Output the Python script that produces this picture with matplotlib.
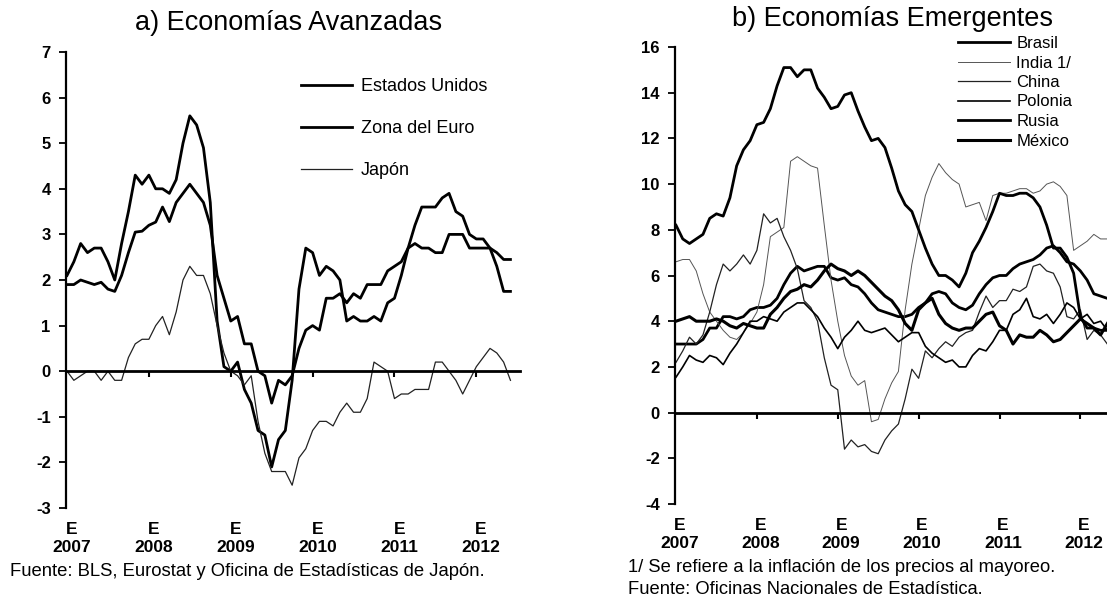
import matplotlib
matplotlib.use("Agg")
import matplotlib.pyplot as plt
import matplotlib.transforms as mtransforms
import numpy as np

plt.rcParams["font.family"] = ["Liberation Sans", "DejaVu Sans"]
plt.rcParams["axes.unicode_minus"] = False

# monthly, Jan 2007 onwards (annual % change)
years = ["2007", "2008", "2009", "2010", "2011", "2012"]

eeuu = [2.1, 2.4, 2.8, 2.6, 2.7, 2.7, 2.4, 2.0, 2.8, 3.5, 4.3, 4.1,
        4.3, 4.0, 4.0, 3.9, 4.2, 5.0, 5.6, 5.4, 4.9, 3.7, 1.1, 0.1,
        0.0, 0.2, -0.4, -0.7, -1.3, -1.4, -2.1, -1.5, -1.3, -0.2, 1.8, 2.7,
        2.6, 2.1, 2.3, 2.2, 2.0, 1.1, 1.2, 1.1, 1.1, 1.2, 1.1, 1.5,
        1.6, 2.1, 2.7, 3.2, 3.6, 3.6, 3.6, 3.8, 3.9, 3.5, 3.4, 3.0,
        2.9, 2.9, 2.7, 2.3, 1.75, 1.75]

euro = [1.9, 1.9, 2.0, 1.95, 1.9, 1.95, 1.8, 1.75, 2.1, 2.6, 3.05, 3.07,
        3.2, 3.27, 3.6, 3.28, 3.7, 3.9, 4.1, 3.9, 3.7, 3.2, 2.1, 1.6,
        1.1, 1.2, 0.6, 0.6, 0.0, -0.1, -0.7, -0.2, -0.3, -0.1, 0.5, 0.9,
        1.0, 0.9, 1.6, 1.6, 1.7, 1.5, 1.7, 1.6, 1.9, 1.9, 1.9, 2.2,
        2.3, 2.4, 2.7, 2.8, 2.7, 2.7, 2.6, 2.6, 3.0, 3.0, 3.0, 2.7,
        2.7, 2.7, 2.7, 2.6, 2.45, 2.45]

japon = [0.0, -0.2, -0.1, 0.0, 0.0, -0.2, 0.0, -0.2, -0.2, 0.3, 0.6, 0.7,
         0.7, 1.0, 1.2, 0.8, 1.3, 2.0, 2.3, 2.1, 2.1, 1.7, 1.0, 0.4,
         0.0, -0.1, -0.3, -0.1, -1.1, -1.8, -2.2, -2.2, -2.2, -2.5, -1.9, -1.7,
         -1.3, -1.1, -1.1, -1.2, -0.9, -0.7, -0.9, -0.9, -0.6, 0.2, 0.1, 0.0,
         -0.6, -0.5, -0.5, -0.4, -0.4, -0.4, 0.2, 0.2, 0.0, -0.2, -0.5, -0.2,
         0.1, 0.3, 0.5, 0.4, 0.2, -0.2]

brasil = [3.0, 3.0, 3.0, 3.0, 3.2, 3.7, 3.7, 4.2, 4.2, 4.1, 4.2, 4.5,
          4.6, 4.6, 4.7, 5.0, 5.6, 6.1, 6.4, 6.2, 6.3, 6.4, 6.4, 5.9,
          5.8, 5.9, 5.6, 5.5, 5.2, 4.8, 4.5, 4.4, 4.3, 4.2, 4.2, 4.3,
          4.6, 4.8, 5.2, 5.3, 5.2, 4.8, 4.6, 4.5, 4.7, 5.2, 5.6, 5.9,
          6.0, 6.0, 6.3, 6.5, 6.6, 6.7, 6.9, 7.2, 7.3, 7.0, 6.6, 6.5,
          6.2, 5.8, 5.2, 5.1, 5.0]

india = [6.6, 6.7, 6.7, 6.2, 5.2, 4.4, 4.0, 3.6, 3.3, 3.2, 3.5, 3.9,
         4.4, 5.6, 7.7, 7.9, 8.1, 11.0, 11.2, 11.0, 10.8, 10.7, 8.2, 5.8,
         4.0, 2.5, 1.6, 1.2, 1.4, -0.4, -0.3, 0.6, 1.3, 1.8, 4.5, 6.5,
         8.0, 9.5, 10.3, 10.9, 10.5, 10.2, 10.0, 9.0, 9.1, 9.2, 8.4, 9.5,
         9.6, 9.6, 9.7, 9.8, 9.8, 9.6, 9.7, 10.0, 10.1, 9.9, 9.5, 7.1,
         7.3, 7.5, 7.8, 7.6, 7.6]

china = [2.2, 2.7, 3.3, 3.0, 3.4, 4.4, 5.6, 6.5, 6.2, 6.5, 6.9, 6.5,
         7.1, 8.7, 8.3, 8.5, 7.7, 7.1, 6.3, 4.9, 4.6, 4.0, 2.4, 1.2,
         1.0, -1.6, -1.2, -1.5, -1.4, -1.7, -1.8, -1.2, -0.8, -0.5, 0.6, 1.9,
         1.5, 2.7, 2.4, 2.8, 3.1, 2.9, 3.3, 3.5, 3.6, 4.4, 5.1, 4.6,
         4.9, 4.9, 5.4, 5.3, 5.5, 6.4, 6.5, 6.2, 6.1, 5.5, 4.2, 4.1,
         4.5, 3.2, 3.6, 3.4, 3.0]

polonia = [1.55, 2.0, 2.5, 2.3, 2.2, 2.5, 2.4, 2.1, 2.6, 3.0, 3.5, 4.0,
           4.0, 4.2, 4.1, 4.0, 4.4, 4.6, 4.8, 4.8, 4.5, 4.2, 3.7, 3.3,
           2.8, 3.3, 3.6, 4.0, 3.6, 3.5, 3.6, 3.7, 3.4, 3.1, 3.3, 3.5,
           3.5, 2.9, 2.6, 2.4, 2.2, 2.3, 2.0, 2.0, 2.5, 2.8, 2.7, 3.1,
           3.6, 3.6, 4.3, 4.5, 5.0, 4.2, 4.1, 4.3, 3.9, 4.3, 4.8, 4.6,
           4.1, 4.3, 3.9, 4.0, 3.6]

rusia = [8.2, 7.6, 7.4, 7.6, 7.8, 8.5, 8.7, 8.6, 9.4, 10.8, 11.5, 11.9,
         12.6, 12.7, 13.3, 14.3, 15.1, 15.1, 14.7, 15.0, 15.0, 14.2, 13.8, 13.3,
         13.4, 13.9, 14.0, 13.2, 12.5, 11.9, 12.0, 11.6, 10.7, 9.7, 9.1, 8.8,
         8.0, 7.2, 6.5, 6.0, 6.0, 5.8, 5.5, 6.1, 7.0, 7.5, 8.1, 8.8,
         9.6, 9.5, 9.5, 9.6, 9.6, 9.4, 9.0, 8.2, 7.2, 7.2, 6.8, 6.1,
         4.2, 3.7, 3.7, 3.6, 3.6]

mexico = [4.0, 4.1, 4.2, 4.0, 4.0, 4.0, 4.1, 4.0, 3.8, 3.7, 3.9, 3.8,
          3.7, 3.7, 4.3, 4.6, 5.0, 5.3, 5.4, 5.6, 5.5, 5.8, 6.2, 6.5,
          6.3, 6.2, 6.0, 6.2, 6.0, 5.7, 5.4, 5.1, 4.9, 4.5, 3.9, 3.6,
          4.5, 4.8, 5.0, 4.3, 3.9, 3.7, 3.6, 3.7, 3.7, 4.0, 4.3, 4.4,
          3.8, 3.6, 3.0, 3.4, 3.3, 3.3, 3.6, 3.4, 3.1, 3.2, 3.5, 3.8,
          4.1, 3.9, 3.7, 3.4, 3.9]

W, H = 1107, 598
fig = plt.figure(figsize=(W / 100, H / 100), dpi=100)


def style_axis(ax, yticks, xmax, label_shift):
    for s in ["top", "right"]:
        ax.spines[s].set_visible(False)
    ax.spines["left"].set_linewidth(1.6)
    ax.spines["bottom"].set_position(("data", 0))
    ax.spines["bottom"].set_linewidth(2.0)
    ax.set_xlim(-0.15, xmax)
    ax.set_ylim(yticks[0], yticks[-1])
    ax.set_yticks(yticks)
    ax.set_xticks([12 * i for i in range(1, 6)])
    ax.tick_params(axis="x", direction="out", length=4, width=1.5,
                   labelbottom=False)
    ax.tick_params(axis="y", direction="out", length=5, width=1.3,
                   labelsize=12, pad=6)
    for lbl in ax.get_yticklabels():
        lbl.set_fontweight("bold")
    trans = mtransforms.blended_transform_factory(ax.transData, ax.transAxes)
    for i, yr in enumerate(years):
        ax.text(12 * i + label_shift, -0.03, "E\n" + yr, transform=trans,
                ha="center", va="top", fontsize=12.5, fontweight="bold",
                linespacing=1.3)


# a) Economias avanzadas
ax1 = fig.add_axes([66 / W, 1 - 508 / H, (520 - 66) / W, (508 - 52) / H])
m1 = np.arange(len(eeuu))
ax1.plot(m1, eeuu, color="black", lw=2.0, label="Estados Unidos")
ax1.plot(m1, euro, color="black", lw=2.0, label="Zona del Euro")
ax1.plot(m1, japon, color="#222222", lw=0.9, label="Japón")
style_axis(ax1, list(range(-3, 8)), 66.4, 0.7)
ax1.legend(loc="upper left", bbox_to_anchor=(301 / W, 1 - 78 / H),
           bbox_transform=fig.transFigure, frameon=False, fontsize=13,
           handlelength=2.8, handletextpad=0.5, labelspacing=1.38,
           borderpad=0, borderaxespad=0)

# b) Economias emergentes
ax2 = fig.add_axes([675 / W, 1 - 504 / H, (1107 - 675) / W, (504 - 47) / H])
m2 = np.arange(len(brasil))
ax2.plot(m2, brasil, color="black", lw=2.0, label="Brasil")
ax2.plot(m2, india, color="#555555", lw=0.7, label="India 1/")
ax2.plot(m2, china, color="#222222", lw=0.9, label="China")
ax2.plot(m2, polonia, color="black", lw=1.2, label="Polonia")
ax2.plot(m2, rusia, color="black", lw=2.0, label="Rusia")
ax2.plot(m2, mexico, color="black", lw=2.2, label="México")
style_axis(ax2, list(range(-4, 17, 2)), 63.95, 0.5)
ax2.legend(loc="upper left", bbox_to_anchor=(958 / W, 1 - 36 / H),
           bbox_transform=fig.transFigure, frameon=False, fontsize=12,
           handlelength=3.1, handletextpad=0.4, labelspacing=0.27,
           borderpad=0, borderaxespad=0)

fig.text(289 / W, 1 - 23 / H, "a) Economías Avanzadas", ha="center",
         va="center", fontsize=19.5)
fig.text(892 / W, 1 - 19 / H, "b) Economías Emergentes", ha="center",
         va="center", fontsize=19.5)

fig.text(10 / W, 1 - 572 / H,
         "Fuente: BLS, Eurostat y Oficina de Estadísticas de Japón.",
         ha="left", va="center", fontsize=13.3)
fig.text(628 / W, 1 - 568 / H,
         "1/ Se refiere a la inflación de los precios al mayoreo.",
         ha="left", va="center", fontsize=13.2)
fig.text(628 / W, 1 - 590 / H, "Fuente: Oficinas Nacionales de Estadística.",
         ha="left", va="center", fontsize=13.2)

fig.savefig("out.png", dpi=100)
